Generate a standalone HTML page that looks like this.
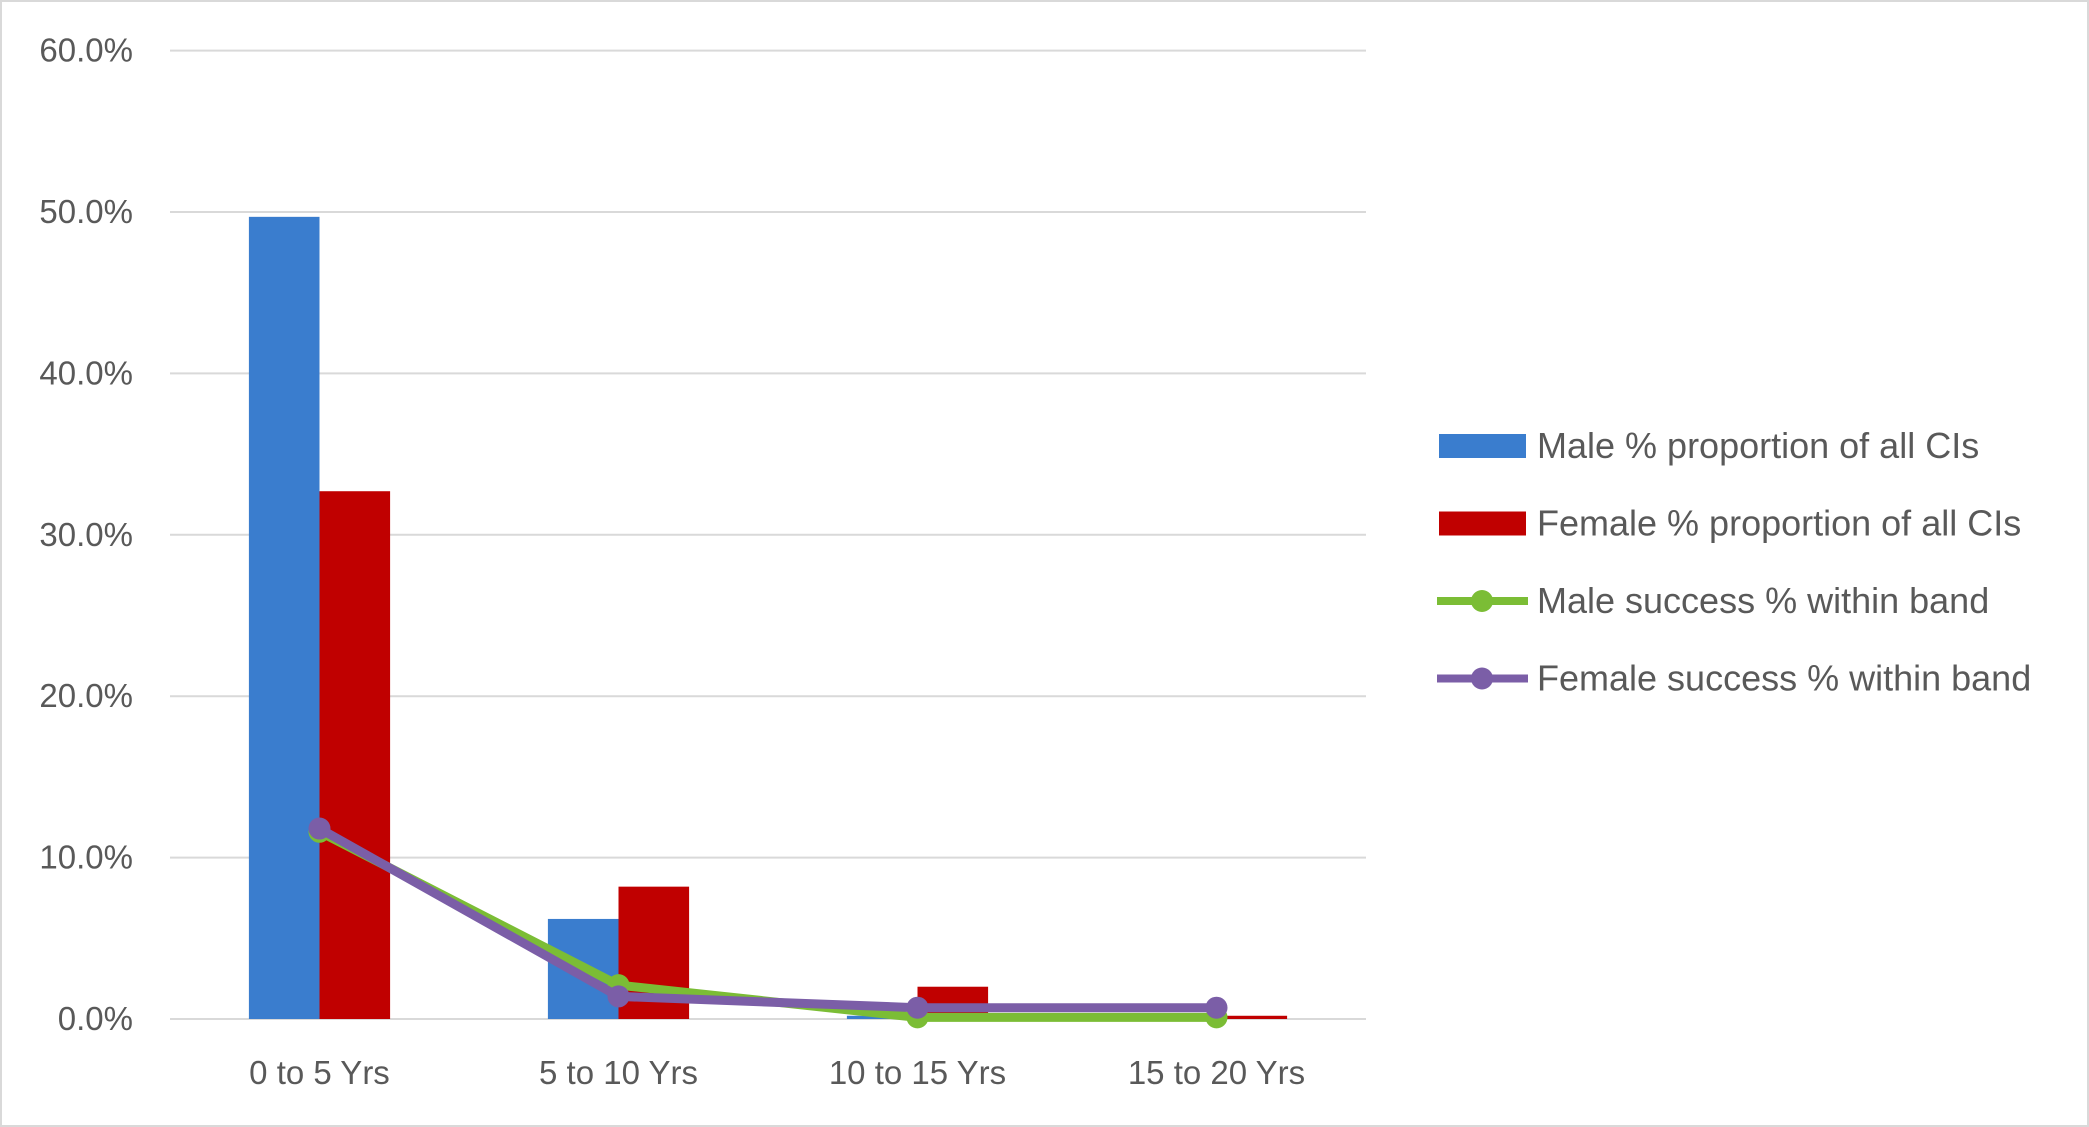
<!DOCTYPE html>
<html><head><meta charset="utf-8"><style>
html,body{margin:0;padding:0;background:#fff}
svg{display:block;font-family:"Liberation Sans",sans-serif}
</style></head><body>
<svg id="chart" width="2089" height="1127" viewBox="0 0 2089 1127" xmlns="http://www.w3.org/2000/svg">
<rect x="1" y="1" width="2087" height="1125" fill="#fff" stroke="#d9d9d9" stroke-width="2"/>
<g id="grid"></g><g id="bars"></g><g id="lines"></g><g id="axes"></g><g id="legend"></g>
</svg>
<script>
const categories=["0 to 5 Yrs","5 to 10 Yrs","10 to 15 Yrs","15 to 20 Yrs"];
const maleProp=[49.7,6.2,0.2,0];
const femaleProp=[32.7,8.2,2.0,0.2];
const maleSuccess=[11.6,2.1,0.1,0.1];
const femaleSuccess=[11.8,1.4,0.7,0.7];
const yTicks=[0,10,20,30,40,50,60];
const NS="http://www.w3.org/2000/svg";
const X0=170,X1=1366,Y0=1019,Y1=50.6,YMAX=60;
const band=(X1-X0)/categories.length;
const y=v=>Y0-(v/YMAX)*(Y0-Y1);
const cx=i=>X0+band*(i+0.5);
const BW=70.6;
function mk(tag,attrs,parent){const e=document.createElementNS(NS,tag);for(const k in attrs)e.setAttribute(k,attrs[k]);parent.appendChild(e);return e;}
const grid=document.getElementById('grid'),bars=document.getElementById('bars'),lines=document.getElementById('lines'),axes=document.getElementById('axes'),legend=document.getElementById('legend');
yTicks.forEach(t=>{
  const l=mk('line',{x1:X0,x2:X1,y1:y(t),y2:y(t),stroke:'#d9d9d9','stroke-width':2},grid);
  
  
  const tx=mk('text',{x:133,y:y(t)+11,'text-anchor':'end','font-size':33,fill:'#595959'},axes);
  tx.textContent=t.toFixed(1)+'%';
  
  
});
categories.forEach((c,i)=>{
  const b1=mk('rect',{x:cx(i)-BW,y:y(maleProp[i]),width:BW,height:Y0-y(maleProp[i]),fill:'#3a7dce'},bars);
  
  
  const b2=mk('rect',{x:cx(i),y:y(femaleProp[i]),width:BW,height:Y0-y(femaleProp[i]),fill:'#c00000'},bars);
  
  
  const tx=mk('text',{x:cx(i),y:1084,'text-anchor':'middle','font-size':33,fill:'#595959'},axes);
  tx.textContent=c;
  
  
});
function series(vals,color,name){
  const p=mk('polyline',{points:vals.map((v,i)=>cx(i)+','+y(v)).join(' '),fill:'none',stroke:color,'stroke-width':9,'stroke-linejoin':'round'},lines);
  
  
  vals.forEach((v,i)=>{
    const c=mk('circle',{cx:cx(i),cy:y(v),r:11,fill:color},lines);
    
    
  });
}
series(maleSuccess,'#7bbd35','male-success');
series(femaleSuccess,'#7b5ea7','female-success');
const leg=[["Male % proportion of all CIs",'#3a7dce','bar'],["Female % proportion of all CIs",'#c00000','bar'],["Male success % within band",'#7bbd35','line'],["Female success % within band",'#7b5ea7','line']];
leg.forEach((l,i)=>{
  const ly=446+i*77.5;
  const g=mk('g',{},legend);
  
  
  if(l[2]==='bar'){mk('rect',{x:1439,y:ly-12,width:87,height:24,fill:l[1]},g);}
  else{mk('line',{x1:1437,x2:1528,y1:ly,y2:ly,stroke:l[1],'stroke-width':8},g);mk('circle',{cx:1482,cy:ly,r:11,fill:l[1]},g);}
  const t=mk('text',{x:1537,y:ly+12,'font-size':36,fill:'#595959'},g);
  t.textContent=l[0];
});
</script>
</body></html>
